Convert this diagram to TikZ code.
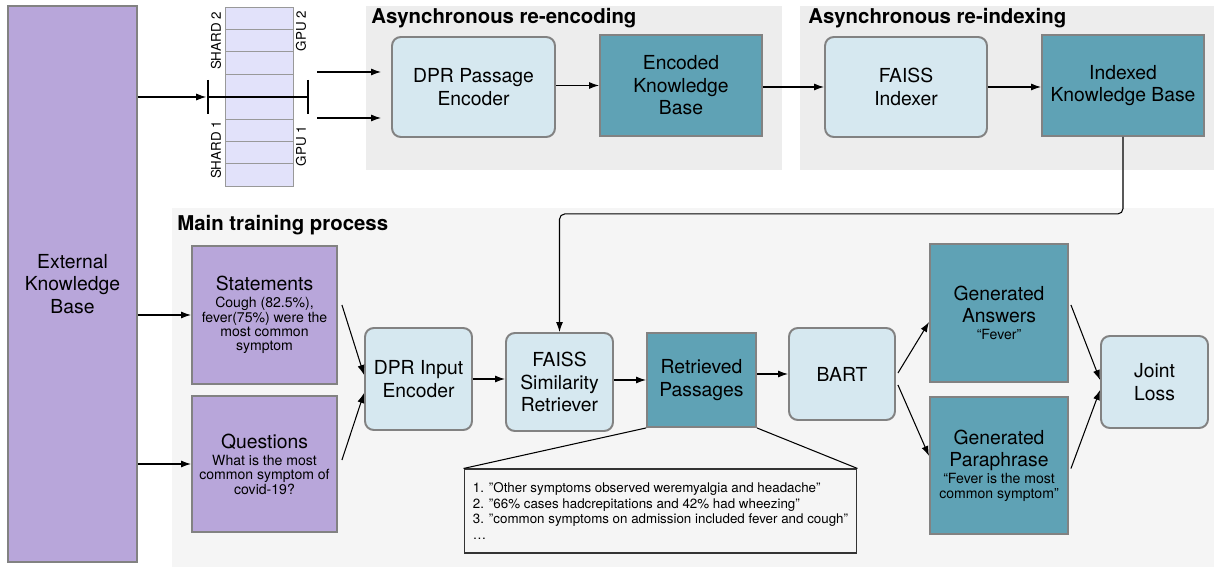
\documentclass[tikz,border=0pt]{standalone}
\usepackage{fontspec}
\setmainfont{TeX Gyre Heros}
\usetikzlibrary{arrows.meta}

\definecolor{kbpurple}{HTML}{B8A6DA}
\definecolor{kbteal}{HTML}{5FA2B5}
\definecolor{kbblue}{HTML}{D6E8F0}
\definecolor{boxgray}{HTML}{828282}
\definecolor{shardfill}{HTML}{E2E2FA}

\newcommand{\mainsize}{\fontsize{11}{12.8}\selectfont}
\newcommand{\notesize}{\fontsize{8}{8.4}\selectfont}

\tikzset{
  kbbox/.style={draw=boxgray, line width=1.1pt, fill=kbpurple, align=center, font=\mainsize},
  modelbox/.style={draw=boxgray, line width=1.1pt, fill=kbblue, rounded corners=5pt, align=center, font=\mainsize},
  storebox/.style={draw=boxgray, line width=1.1pt, fill=kbteal, align=center, font=\mainsize},
  flow/.style={-{Latex[length=2mm,width=1.4mm]}, line width=0.6pt},
  asyncbg/.style={fill=black!7},
  mainbg/.style={fill=black!4},
  regiontitle/.style={anchor=west, inner sep=0pt, font=\bfseries\fontsize{11.6}{13}\selectfont},
  shardcell/.style={draw=black!40, line width=0.5pt, fill=shardfill},
  shardlabel/.style={rotate=90, inner sep=0pt, font=\fontsize{7.6}{9}\selectfont},
}

\begin{document}
\begin{tikzpicture}[x=0.02cm, y=-0.02cm]
\useasboundingbox (0,0) rectangle (1214,567);

% background areas
\fill[asyncbg] (366,6) rectangle (782,170);
\fill[asyncbg] (800,6) rectangle (1214,170);
\fill[mainbg] (172,208) rectangle (1214,567);
\node[regiontitle] (enctitle) at (371,18) {Asynchronous re-encoding};
\node[regiontitle] (idxtitle) at (808,18) {Asynchronous re-indexing};
\node[regiontitle] (traintitle) at (177,225) {Main training process};

\node[kbbox, minimum width=2.58cm, minimum height=11.12cm] (extkb) at (72.5,284) {External\\Knowledge\\Base};

% shards
\foreach \i in {0,...,7}{
  \draw[shardcell] (225,{7+22.4*\i}) rectangle (293,{29.4+22.4*\i});
}
\coordinate (barL) at (208,97);
\coordinate (barR) at (308,97);
\draw[line width=1.4pt] (barL) -- (barR);
\draw[line width=1.4pt] (barL) ++(0,-17) -- ++(0,34);
\draw[line width=1.4pt] (barR) ++(0,-17) -- ++(0,34);
\node[shardlabel] (shardtwo) at (216,41) {SHARD 2};
\node[shardlabel] (shardone) at (216,150) {SHARD 1};
\node[shardlabel] (gputwo) at (301,31) {GPU 2};
\node[shardlabel] (gpuone) at (301,146) {GPU 1};
\coordinate (outtwo) at (317,72);
\coordinate (outone) at (317,118);

% asynchronous parts
\node[modelbox, minimum width=3.26cm, minimum height=2cm] (dpe) at (473.5,87) {DPR Passage\\Encoder};
\node[storebox, minimum width=3.24cm, minimum height=2.02cm] (enckb) at (681,85.5) {Encoded\\Knowledge\\Base};
\node[modelbox, minimum width=3.24cm, minimum height=2cm] (fidx) at (906,87) {FAISS\\Indexer};
\node[storebox, minimum width=3.24cm, minimum height=2.02cm] (idxkb) at (1123,85.5) {Indexed\\Knowledge Base};

% main training
\node[kbbox, minimum width=2.9cm, minimum height=2.76cm] (stm) at (264.5,315)
  {Statements\\[-3pt]{\notesize Cough (82.5\%),}\\[-4.6pt]{\notesize fever(75\%) were the}\\[-4.6pt]{\notesize most common}\\[-4.6pt]{\notesize symptom}};
\node[kbbox, minimum width=2.9cm, minimum height=2.72cm] (qst) at (264.5,464)
  {Questions\\[-3pt]{\notesize What is the most}\\[-4.6pt]{\notesize common symptom of}\\[-4.6pt]{\notesize covid-19?}};
\node[modelbox, minimum width=2.14cm, minimum height=2.04cm] (die) at (418.5,379) {DPR Input\\Encoder};
\node[modelbox, minimum width=2.14cm, minimum height=1.96cm] (fsr) at (559.5,382) {FAISS\\Similarity\\Retriever};
\node[storebox, minimum width=2.18cm, minimum height=1.88cm] (rp) at (701.5,380) {Retrieved\\Passages};
\node[modelbox, minimum width=2.12cm, minimum height=1.84cm] (bart) at (842,374) {BART};
\node[storebox, minimum width=2.76cm, minimum height=2.76cm] (ga) at (999,313)
  {Generated\\Answers\\[-3pt]{\notesize “Fever”}};
\node[storebox, minimum width=2.76cm, minimum height=2.74cm] (gp) at (999,465.5)
  {Generated\\Paraphrase\\[-3pt]{\notesize “Fever is the most}\\[-4.6pt]{\notesize common symptom”}};
\node[modelbox, minimum width=2.14cm, minimum height=1.84cm] (jl) at (1154.5,382) {Joint\\Loss};
\node[draw=black!80, line width=0.6pt, fill=black!4, minimum width=7.86cm, minimum height=1.68cm,
  align=left, font=\fontsize{7.6}{8.9}\selectfont] (psg) at (660.5,511)
  {1. "Other symptoms observed weremyalgia and headache"\\
   2. "66\% cases hadcrepitations and 42\% had wheezing"\\
   3. "common symptoms on admission included fever and cough"\\
   …};

% connectors
\draw[flow, shorten >=1pt] (extkb.east |- barL) -- (barL);
\draw[flow, shorten >=2mm] (outtwo) -- (outtwo -| dpe.west);
\draw[flow, shorten >=2mm] (outone) -- (outone -| dpe.west);
\draw[flow] (dpe.east |- enckb) -- (enckb.west);
\draw[flow] (enckb.east |- fidx) -- (fidx.west);
\draw[flow] (fidx.east) -- (fidx.east -| idxkb.west);
\draw[flow, rounded corners=3pt] (idxkb.south) -- ++(0,77) -| (fsr.north);
\draw[flow] (extkb.east |- stm) -- (stm.west);
\draw[flow] (extkb.east |- qst) -- (qst.west);
\draw[flow] ([shift={(4,-10)}]stm.east) -- ([yshift=0.08cm]die.west);
\draw[flow] ([shift={(4,-4)}]qst.east) -- ([yshift=-0.28cm]die.west);
\draw[flow] (die.east) -- (die.east -| fsr.west);
\draw[flow] (fsr.east |- rp) -- (rp.west);
\draw[flow] (rp.east |- bart) -- (bart.west);
\draw[flow] ([shift={(2,-1)}]bart.east) -- ([yshift=-0.18cm]ga.west);
\draw[flow] ([shift={(2,11)}]bart.east) -- ([yshift=0.19cm]gp.west);
\draw[flow] ([shift={(2,-8)}]ga.east) -- ([yshift=0.04cm]jl.west);
\draw[flow] ([shift={(2,3)}]gp.east) -- ([yshift=-0.16cm]jl.west);
\draw[line width=0.6pt] (rp.south west) -- (psg.north west);
\draw[line width=0.6pt] (rp.south east) -- (psg.north east);

\end{tikzpicture}
\end{document}
